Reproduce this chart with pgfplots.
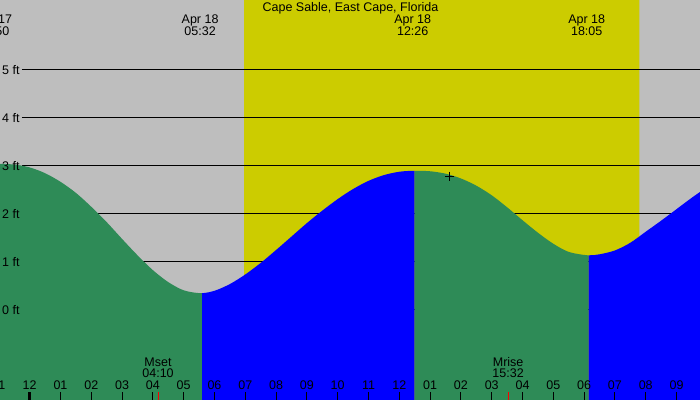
\documentclass[border=0pt]{standalone}
\usepackage{pgfplots}
\pgfplotsset{compat=1.18}
\usepackage{pgfplotstable}
\usepgfplotslibrary{fillbetween}
\usepackage{fontspec}
\setmainfont{Liberation Sans}
\definecolor{bggray}{RGB}{190,190,190}
\definecolor{daylight}{RGB}{204,204,0}
\definecolor{falling}{RGB}{46,139,87}
\definecolor{rising}{RGB}{0,0,255}
\newcommand\lbl{\fontsize{12.5bp}{12bp}\selectfont}

% hours since midnight Apr 18, tide level in ft
\pgfplotstableread{
h level
-1.167 3.05
-0.5 3.03
0.0 2.97
0.5 2.85
1.0 2.67
1.5 2.44
2.0 2.15
2.5 1.83
3.0 1.48
3.5 1.14
4.0 0.83
4.5 0.58
5.0 0.41
5.55 0.35
6.0 0.40
6.5 0.54
7.0 0.74
7.5 0.98
8.0 1.25
8.5 1.53
9.0 1.81
9.5 2.07
10.0 2.31
10.5 2.52
11.0 2.69
11.5 2.81
12.0 2.88
12.46 2.90
13.0 2.89
13.5 2.84
14.0 2.74
14.5 2.59
15.0 2.39
15.5 2.14
16.0 1.87
16.5 1.61
17.0 1.38
17.5 1.21
18.1 1.14
18.5 1.16
19.0 1.24
19.5 1.40
20.0 1.63
20.5 1.86
21.0 2.10
21.5 2.34
21.9 2.52
}\tidedata

\begin{document}
\begin{tikzpicture}
\begin{axis}[
  name=ax,
  set layers=axis on top,
  scale only axis, width=700bp, height=400bp,
  xmin=-0.964, xmax=21.763, ymin=-1.875, ymax=6.458,
  axis line style={draw=none},
  axis on top,
  xtick={-1,0,...,21},
  xticklabels={11,12,01,02,03,04,05,06,07,08,09,10,11,12,01,02,03,04,05,06,07,08,09},
  xtick pos=left,
  ytick=\empty,
  tick align=inside,
  major tick length=8bp,
  every tick/.style={black, line width=1bp},
  xticklabel style={anchor=base, yshift=10bp, font=\lbl},
]
% background, daylight and level lines (bottom layer)
\addplot[on layer=axis background, fill=bggray, draw=none] coordinates {(-2,-2) (-2,7) (23,7) (23,-2) (-2,-2)};
\addplot[on layer=axis background, fill=daylight, draw=none] coordinates {(6.958,-2) (6.958,7) (19.795,7) (19.795,-2) (6.958,-2)};
\pgfplotsinvokeforeach{0,1,2,3,4,5}{
  \addplot[on layer=axis background, black, line width=1bp] coordinates {(-0.25,#1) (21.8,#1)};
}
% tide
\addplot[name path=tide, draw=none, smooth] table[x=h, y=level] {\tidedata};
\addplot[name path=base, draw=none] coordinates {(-1.5,-2) (22.5,-2)};
\addplot[fill=falling, draw=none] fill between[of=tide and base, soft clip={domain=-1.5:5.595}];
\addplot[fill=rising, draw=none] fill between[of=tide and base, soft clip={domain=5.595:12.5}];
\addplot[fill=falling, draw=none] fill between[of=tide and base, soft clip={domain=12.5:18.145}];
\addplot[fill=rising, draw=none] fill between[of=tide and base, soft clip={domain=18.145:22.5}];
% current position marker
\addplot[only marks, mark=+, mark size=4.5bp, black, line width=1bp] coordinates {(13.646,2.79)};
% midnight and moon ticks
\addplot[black, line width=2.5bp] coordinates {(0,-1.875) (0,-1.708)};
\addplot[red, line width=1bp] coordinates {(4.167,-1.875) (4.167,-1.708)};
\addplot[red, line width=1bp] coordinates {(15.533,-1.875) (15.533,-1.708)};
% texts
\node[anchor=base, font=\lbl] at (axis cs:-1,-1.6667) {11};
\node[anchor=base, font=\lbl] at (axis cs:10.416,6.2146) {Cape Sable, East Cape, Florida};
\node[anchor=base, font=\lbl] at (axis cs:-1.167,5.9583) {Apr 17};
\node[anchor=base, font=\lbl] at (axis cs:-1.167,5.7083) {22:50};
\node[anchor=base, font=\lbl] at (axis cs:5.533,5.9583) {Apr 18};
\node[anchor=base, font=\lbl] at (axis cs:5.533,5.7083) {05:32};
\node[anchor=base, font=\lbl] at (axis cs:12.435,5.9583) {Apr 18};
\node[anchor=base, font=\lbl] at (axis cs:12.435,5.7083) {12:26};
\node[anchor=base, font=\lbl] at (axis cs:18.084,5.9583) {Apr 18};
\node[anchor=base, font=\lbl] at (axis cs:18.084,5.7083) {18:05};
\node[anchor=base, font=\lbl] at (axis cs:4.167,-1.173) {Mset};
\node[anchor=base, font=\lbl] at (axis cs:4.167,-1.402) {04:10};
\node[anchor=base, font=\lbl] at (axis cs:15.533,-1.173) {Mrise};
\node[anchor=base, font=\lbl] at (axis cs:15.533,-1.402) {15:32};
\pgfplotsinvokeforeach{0,1,2,3,4,5}{
  \node[anchor=base west, inner sep=0pt, font=\lbl, xshift=2bp, yshift=-5bp] at (axis cs:-0.964,#1) {#1 ft};
}
\end{axis}
\pgfresetboundingbox
\useasboundingbox (ax.south west) rectangle (ax.north east);
\end{tikzpicture}
\end{document}
